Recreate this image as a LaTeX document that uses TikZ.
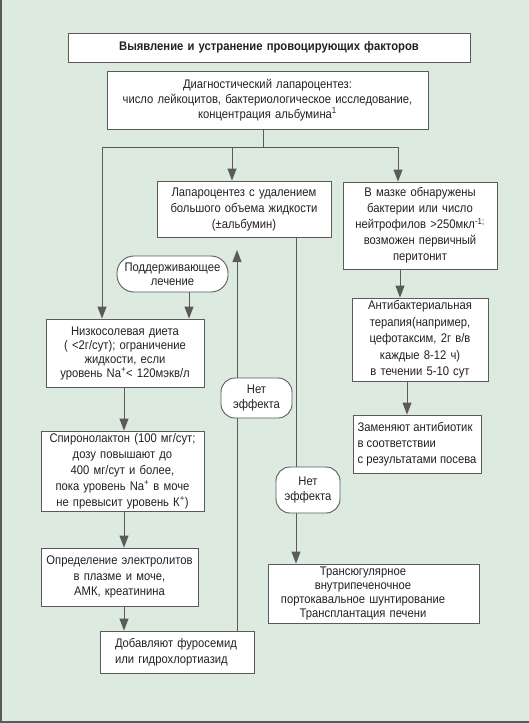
\documentclass[tikz,border=0pt]{standalone}
\usepackage{fontspec}
\setmainfont{Liberation Sans}[FakeStretch=0.9]
\usetikzlibrary{arrows.meta}
\definecolor{bgcol}{HTML}{DCEAE0}
\definecolor{lncol}{HTML}{5A5A5A}
\definecolor{txcol}{HTML}{222222}
\begin{document}
\begin{tikzpicture}[x=1pt,y=-1pt,
  box/.style={draw=lncol, line width=0.9pt, fill=white, text=txcol, align=center,
    inner xsep=3pt, inner ysep=0pt, font=\fontsize{12.5}{15}\selectfont},
  roundbox/.style={box, rounded corners=14pt},
  conn/.style={draw=lncol, line width=0.9pt},
  arr/.style={conn, -{Triangle[width=9pt,length=12pt]}}]
\fill[bgcol] (0,0) rectangle (529,723);
\useasboundingbox (0,0) rectangle (529,723);
\draw[lncol, line width=2pt] (1,0) -- (1,722) -- (529,722);

\node[box, text width=396pt, minimum height=29pt, font=\fontsize{12.5}{15}\selectfont\bfseries] (title) at (269,47.5)
  {Выявление и устранение провоцирующих факторов};
\node[box, text width=315pt, minimum height=58pt] (diag) at (267.5,100)
  {Диагностический лапароцентез:\\число лейкоцитов, бактериологическое исследование,\\концентрация альбумина\textsuperscript{1}};
\node[box, text width=168pt, minimum height=56pt, font=\fontsize{12.5}{16}\selectfont] (lap) at (244,209)
  {Лапароцентез с удалением\\большого объема жидкости\\(±альбумин)};
\node[box, text width=148pt, minimum height=87pt, font=\fontsize{12.5}{16}\selectfont] (mazke) at (420,225.5)
  {В мазке обнаружены\\бактерии или число\\нейтрофилов >250мкл\textsuperscript{-1;}\\возможен первичный\\перитонит};
\node[roundbox, rounded corners=17pt, text width=105pt, minimum height=36pt, font=\fontsize{12.5}{14}\selectfont] (support) at (172.5,274)
  {Поддерживающее\\лечение};
\node[box, text width=152pt, minimum height=68pt, font=\fontsize{12.5}{14}\selectfont] (lowsalt) at (125,353)
  {Низкосолевая диета\\( <2г/сут); ограничение\\жидкости, если\\уровень Na\textsuperscript{+}< 120мэкв/л};
\node[box, text width=157pt, minimum height=80pt, font=\fontsize{12.5}{16}\selectfont] (spiro) at (122.5,471)
  {Спиронолактон (100 мг/сут;\\дозу повышают до\\400 мг/сут и более,\\пока уровень Na\textsuperscript{+} в моче\\не превысит уровень К\textsuperscript{+})};
\node[box, text width=151pt, minimum height=58pt, font=\fontsize{12.5}{15.5}\selectfont] (electro) at (119.5,577)
  {Определение электролитов\\в плазме и моче,\\АМК, креатинина};
\node[box, align=left, inner xsep=15pt, text width=124pt, minimum height=42pt, font=\fontsize{12.5}{16}\selectfont] (furo) at (177,652)
  {Добавляют фуросемид\\или гидрохлортиазид};
\node[roundbox, text width=65pt, minimum height=40pt] (net1) at (256.5,398)
  {Нет\\эффекта};
\node[roundbox, text width=58pt, minimum height=46pt] (net2) at (308,490)
  {Нет\\эффекта};
\node[box, text width=205pt, minimum height=59pt, font=\fontsize{12.5}{14}\selectfont] (transplant) at (373.5,593.5)
  {\parbox{183pt}{\centering Трансюгулярное\\внутрипеченочное\\портокавальное шунтирование\\Трансплантация печени}\hspace*{21pt}};
\node[box, text width=130pt, minimum height=83pt, font=\fontsize{12.5}{16.5}\selectfont] (antibac) at (420,339.5)
  {Антибактериальная\\терапия(например,\\цефотаксим, 2г в/в\\каждые 8-12 ч)\\в течении 5-10 сут};
\node[box, align=left, inner xsep=2pt, minimum width=128pt, minimum height=58pt, font=\fontsize{12.5}{16}\selectfont] (zamen) at (417,444)
  {Заменяют антибиотик\\в соответствии\\с результатами посева};

\coordinate (jc) at (263,147);
\coordinate (jl) at (102,147);
\coordinate (jm) at (232,147);
\coordinate (jr) at (398,147);
\draw[conn] (diag.south -| jc) -- (jc);
\draw[conn] (jl) -- (jr);
\draw[arr] (jl) -- (jl |- lowsalt.north);
\draw[arr] (jm) -- (jm |- lap.north);
\draw[arr] (jr) -- (jr |- mazke.north);

\coordinate (sx) at (189,0);
\draw[arr] (support.south -| sx) -- (lowsalt.north -| sx);
\coordinate (lx) at (124,0);
\draw[arr] (lowsalt.south -| lx) -- (spiro.north -| lx);
\draw[arr] (spiro.south -| lx) -- (electro.north -| lx);
\draw[arr] (electro.south -| lx) -- (furo.north -| lx);

\coordinate (ux) at (237,0);
\coordinate (utip) at (237,250);
\draw[conn] (furo.north -| ux) -- (net1.south -| ux);
\draw[arr] (net1.north -| ux) -- (utip);

\coordinate (dx) at (296,0);
\draw[conn] (lap.south -| dx) -- (net2.north -| dx);
\draw[arr] (net2.south -| dx) -- (transplant.north -| dx);

\coordinate (rx) at (400,0);
\draw[arr] (mazke.south -| rx) -- (antibac.north -| rx);
\coordinate (rx2) at (407,0);
\draw[arr] (antibac.south -| rx2) -- (zamen.north -| rx2);
\end{tikzpicture}
\end{document}
